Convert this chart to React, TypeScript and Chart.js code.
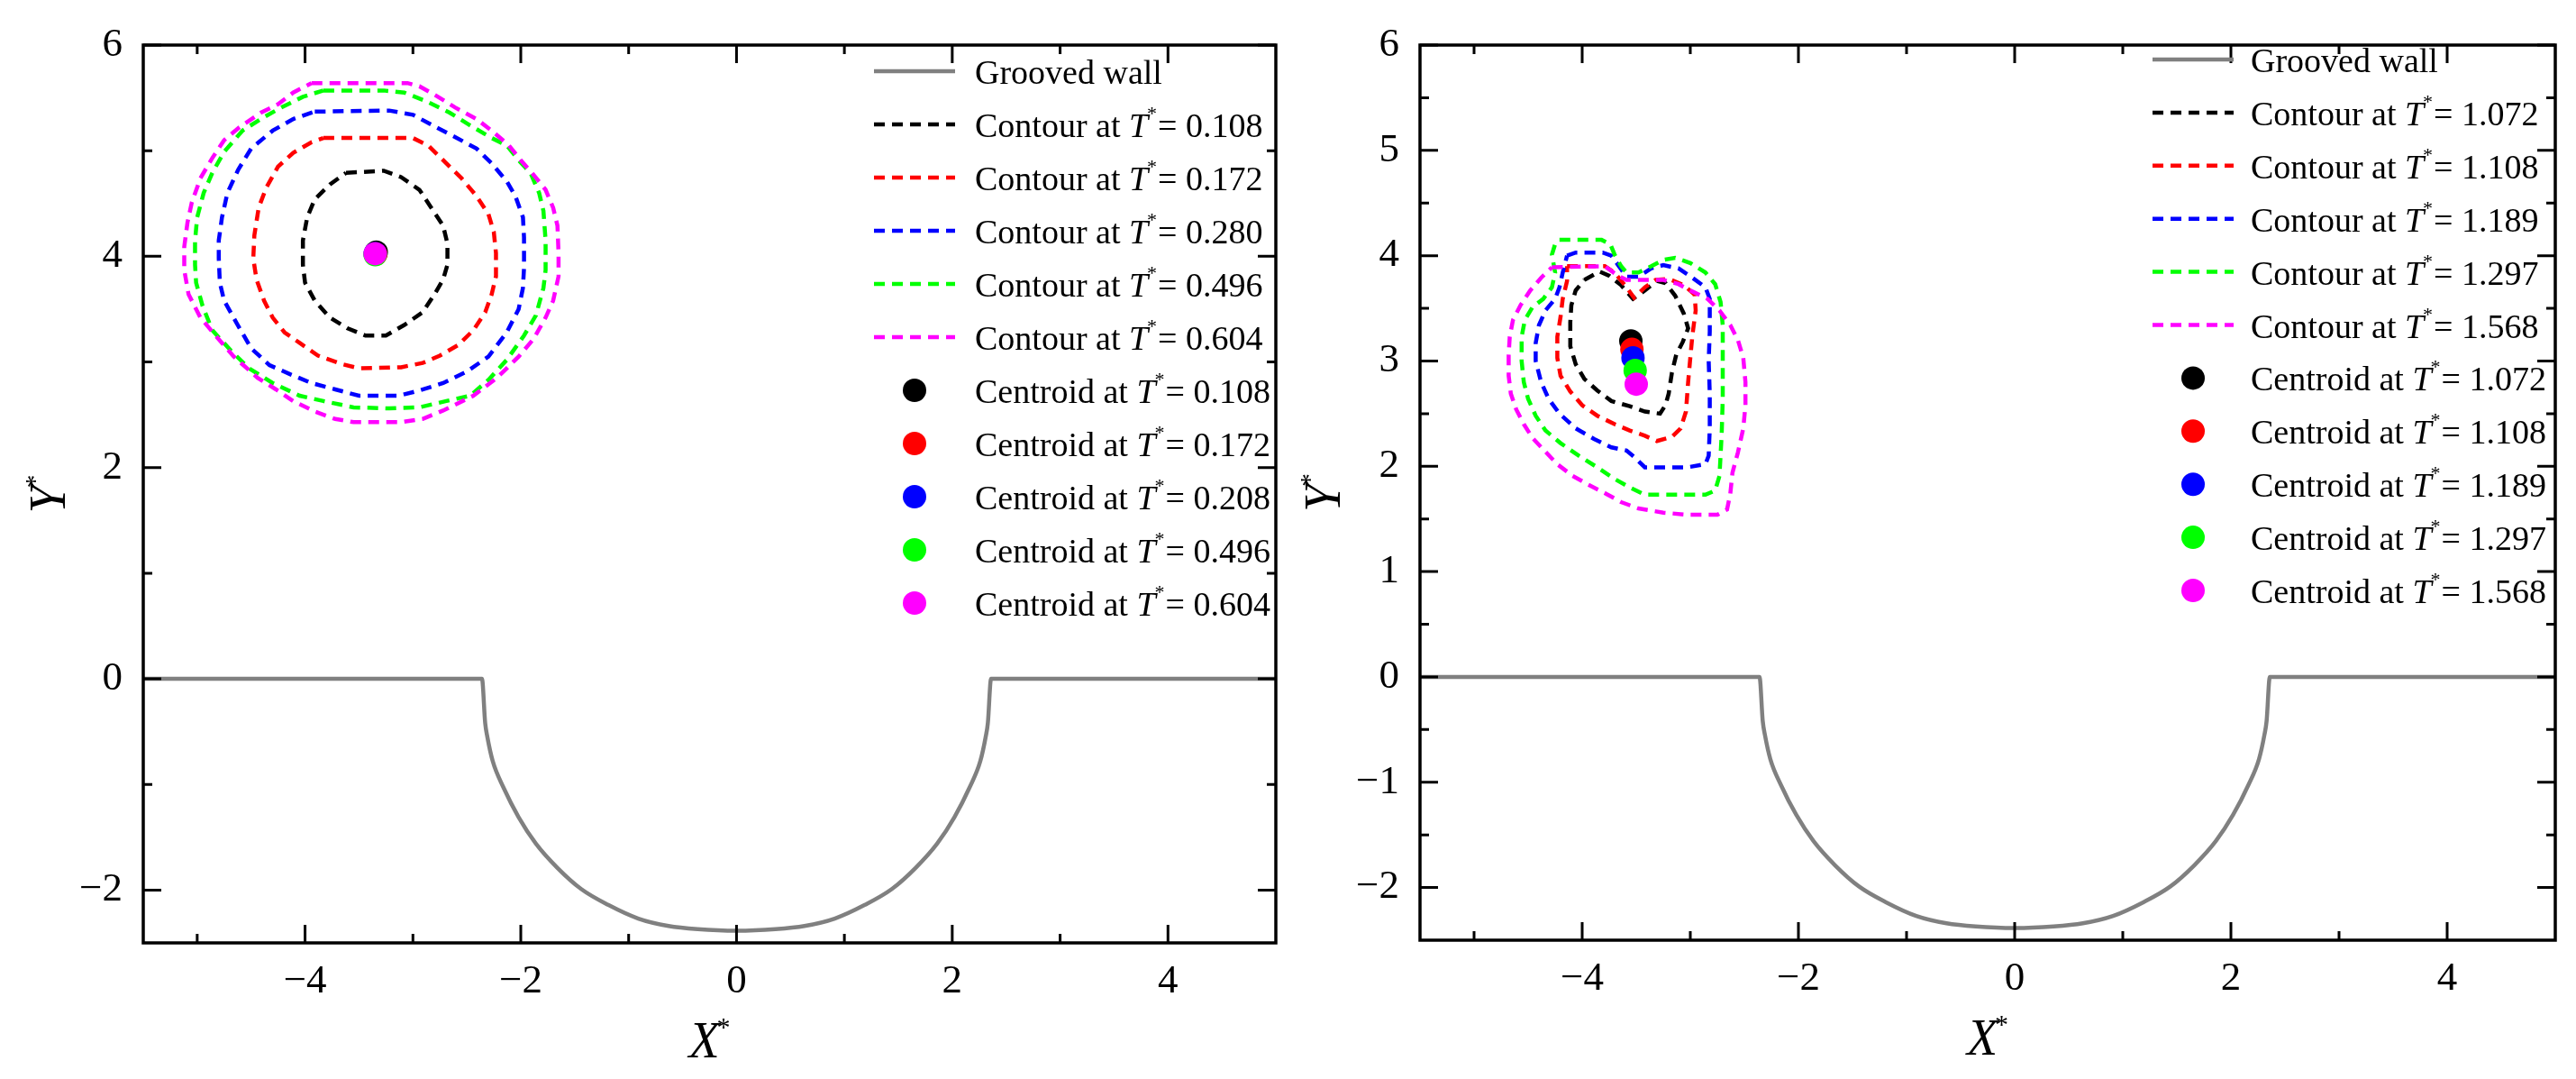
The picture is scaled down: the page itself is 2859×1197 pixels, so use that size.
import { useEffect, useRef } from "react";
import Chart from "chart.js/auto";

type Pt = [number, number];

// ---- data ----
const wall: Pt[] = [
  [-5.5, 0], [-2.36, 0], [-2.33, -0.42], [-2.31, -0.55], [-2.26, -0.78], [-2.16, -1.03],
  [-2.02, -1.31], [-1.86, -1.56], [-1.66, -1.79], [-1.44, -1.99], [-1.19, -2.14],
  [-0.91, -2.27], [-0.63, -2.34], [-0.36, -2.37], [0, -2.385], [0.36, -2.37], [0.63, -2.34],
  [0.91, -2.27], [1.19, -2.14], [1.44, -1.99], [1.66, -1.79], [1.86, -1.56], [2.02, -1.31],
  [2.16, -1.03], [2.26, -0.78], [2.31, -0.55], [2.33, -0.42], [2.36, 0], [5, 0],
];

const earlyTimes = ["0.108", "0.172", "0.280", "0.496", "0.604"];
const earlyCentroidTimes = ["0.108", "0.172", "0.208", "0.496", "0.604"];
const lateTimes = ["1.072", "1.108", "1.189", "1.297", "1.568"];

const early0108: Pt[] = [
  [-3.62, 4.79], [-3.27, 4.81], [-3.11, 4.75], [-2.94, 4.63], [-2.83, 4.46], [-2.72, 4.29],
  [-2.68, 4.12], [-2.68, 3.92], [-2.72, 3.78], [-2.8, 3.64], [-2.91, 3.47], [-3.08, 3.35],
  [-3.25, 3.25], [-3.44, 3.25], [-3.61, 3.32], [-3.77, 3.42], [-3.91, 3.58], [-4.0, 3.75],
  [-4.02, 3.92], [-4.02, 4.15], [-3.98, 4.37], [-3.91, 4.54], [-3.77, 4.68], [-3.62, 4.79],
];
const early0172: Pt[] = [
  [-3.83, 5.12], [-3.0, 5.12], [-2.86, 5.05], [-2.72, 4.91], [-2.55, 4.74], [-2.41, 4.57],
  [-2.3, 4.4], [-2.25, 4.23], [-2.23, 4.03], [-2.23, 3.81], [-2.27, 3.64], [-2.33, 3.47],
  [-2.44, 3.3], [-2.58, 3.16], [-2.75, 3.06], [-2.91, 2.99], [-3.11, 2.95], [-3.5, 2.94],
  [-3.66, 2.98], [-3.88, 3.06], [-4.05, 3.18], [-4.19, 3.28], [-4.3, 3.42], [-4.38, 3.58],
  [-4.45, 3.78], [-4.48, 3.98], [-4.47, 4.2], [-4.43, 4.46], [-4.36, 4.65], [-4.25, 4.85],
  [-4.11, 4.98], [-3.94, 5.08], [-3.83, 5.12],
];
const early0280: Pt[] = [
  [-3.91, 5.37], [-3.22, 5.38], [-3.0, 5.34], [-2.8, 5.23], [-2.61, 5.13], [-2.41, 5.02],
  [-2.27, 4.88], [-2.13, 4.71], [-2.05, 4.57], [-1.98, 4.37], [-1.97, 4.18], [-1.97, 3.89],
  [-1.98, 3.7], [-2.02, 3.5], [-2.13, 3.28], [-2.3, 3.05], [-2.5, 2.91], [-2.72, 2.8],
  [-2.94, 2.73], [-3.13, 2.68], [-3.5, 2.68], [-3.72, 2.74], [-3.94, 2.8], [-4.13, 2.88],
  [-4.33, 2.97], [-4.5, 3.13], [-4.63, 3.36], [-4.75, 3.58], [-4.79, 3.75], [-4.8, 3.98],
  [-4.8, 4.15], [-4.77, 4.37], [-4.72, 4.6], [-4.62, 4.82], [-4.5, 5.02], [-4.3, 5.19],
  [-4.11, 5.3], [-3.91, 5.37],
];
const early0496: Pt[] = [
  [-3.83, 5.57], [-3.27, 5.57], [-3.08, 5.55], [-2.88, 5.47], [-2.66, 5.36], [-2.47, 5.24],
  [-2.27, 5.12], [-2.13, 5.05], [-2.02, 4.91], [-1.91, 4.79], [-1.83, 4.6], [-1.79, 4.43],
  [-1.77, 4.15], [-1.77, 3.87], [-1.79, 3.7], [-1.86, 3.44], [-1.97, 3.25], [-2.13, 3.02],
  [-2.3, 2.83], [-2.47, 2.68], [-2.69, 2.63], [-2.94, 2.57], [-3.22, 2.56], [-3.55, 2.57],
  [-3.83, 2.63], [-4.05, 2.68], [-4.3, 2.8], [-4.52, 2.94], [-4.69, 3.11], [-4.86, 3.3],
  [-4.95, 3.53], [-5.01, 3.75], [-5.02, 3.92], [-5.02, 4.15], [-5.0, 4.37], [-4.94, 4.6],
  [-4.86, 4.79], [-4.75, 4.99], [-4.58, 5.19], [-4.41, 5.3], [-4.22, 5.41], [-4.02, 5.51],
  [-3.83, 5.57],
];
const early0604: Pt[] = [
  [-3.94, 5.64], [-3.05, 5.64], [-2.94, 5.61], [-2.8, 5.53], [-2.61, 5.41], [-2.41, 5.3],
  [-2.27, 5.19], [-2.11, 5.05], [-2.0, 4.91], [-1.88, 4.77], [-1.77, 4.63], [-1.7, 4.46],
  [-1.66, 4.29], [-1.65, 4.03], [-1.65, 3.81], [-1.7, 3.58], [-1.77, 3.42], [-1.88, 3.22],
  [-2.02, 3.05], [-2.22, 2.85], [-2.44, 2.68], [-2.72, 2.54], [-2.91, 2.46], [-3.11, 2.43],
  [-3.55, 2.43], [-3.72, 2.46], [-3.91, 2.53], [-4.11, 2.63], [-4.27, 2.74], [-4.44, 2.85],
  [-4.66, 3.05], [-4.83, 3.25], [-4.97, 3.42], [-5.08, 3.64], [-5.12, 3.87], [-5.12, 4.09],
  [-5.09, 4.32], [-5.05, 4.51], [-4.97, 4.74], [-4.86, 4.93], [-4.75, 5.1], [-4.61, 5.22],
  [-4.41, 5.36], [-4.25, 5.44], [-4.11, 5.55], [-3.94, 5.64],
];
const earlyCentroids: Pt[] = [
  [-3.34, 4.04], [-3.345, 4.02], [-3.35, 4.025], [-3.35, 4.015], [-3.35, 4.025],
];

const late1072: Pt[] = [
  [-3.98, 3.77], [-3.84, 3.85], [-3.75, 3.81], [-3.64, 3.72], [-3.53, 3.59], [-3.42, 3.67],
  [-3.31, 3.76], [-3.23, 3.74], [-3.14, 3.62], [-3.06, 3.45], [-3.02, 3.31], [-3.07, 3.18],
  [-3.13, 3.06], [-3.17, 2.89], [-3.2, 2.69], [-3.23, 2.58], [-3.28, 2.5], [-3.42, 2.52],
  [-3.56, 2.57], [-3.73, 2.62], [-3.86, 2.72], [-3.98, 2.83], [-4.06, 2.97], [-4.11, 3.14],
  [-4.11, 3.37], [-4.1, 3.53], [-4.06, 3.67], [-3.98, 3.77],
];
const late1108: Pt[] = [
  [-4.14, 3.9], [-3.79, 3.9], [-3.7, 3.84], [-3.59, 3.7], [-3.52, 3.6], [-3.42, 3.7],
  [-3.32, 3.77], [-3.2, 3.78], [-3.06, 3.72], [-2.96, 3.63], [-2.95, 3.48], [-2.98, 3.25],
  [-3.0, 3.03], [-3.02, 2.8], [-3.04, 2.52], [-3.09, 2.36], [-3.17, 2.28], [-3.31, 2.24],
  [-3.42, 2.29], [-3.56, 2.34], [-3.7, 2.4], [-3.86, 2.48], [-4.0, 2.58], [-4.11, 2.71],
  [-4.2, 2.86], [-4.23, 3.03], [-4.23, 3.23], [-4.2, 3.42], [-4.18, 3.59], [-4.14, 3.76],
  [-4.14, 3.9],
];
const late1189: Pt[] = [
  [-4.14, 4.0], [-4.06, 4.03], [-3.81, 4.03], [-3.73, 4.0], [-3.66, 3.9], [-3.59, 3.8],
  [-3.48, 3.8], [-3.36, 3.88], [-3.25, 3.91], [-3.11, 3.88], [-2.98, 3.79], [-2.86, 3.7],
  [-2.82, 3.59], [-2.82, 3.28], [-2.83, 3.0], [-2.82, 2.69], [-2.82, 2.36], [-2.83, 2.1],
  [-2.86, 2.02], [-3.03, 1.99], [-3.42, 1.99], [-3.52, 2.09], [-3.59, 2.15], [-3.73, 2.18],
  [-3.89, 2.26], [-4.06, 2.36], [-4.21, 2.5], [-4.31, 2.64], [-4.38, 2.8], [-4.43, 3.0],
  [-4.43, 3.17], [-4.4, 3.34], [-4.34, 3.48], [-4.25, 3.59], [-4.21, 3.7], [-4.18, 3.84],
  [-4.14, 4.0],
];
const late1297: Pt[] = [
  [-4.21, 4.15], [-3.82, 4.15], [-3.74, 4.11], [-3.7, 4.01], [-3.64, 3.9], [-3.59, 3.84],
  [-3.48, 3.84], [-3.36, 3.9], [-3.25, 3.96], [-3.14, 3.98], [-3.0, 3.93], [-2.86, 3.84],
  [-2.77, 3.73], [-2.72, 3.56], [-2.7, 3.34], [-2.7, 3.0], [-2.7, 2.64], [-2.71, 2.3],
  [-2.73, 1.91], [-2.77, 1.77], [-2.86, 1.73], [-3.42, 1.73], [-3.56, 1.8], [-3.7, 1.88],
  [-3.86, 1.99], [-4.03, 2.1], [-4.2, 2.22], [-4.34, 2.34], [-4.43, 2.48], [-4.5, 2.64],
  [-4.54, 2.8], [-4.56, 3.0], [-4.56, 3.23], [-4.53, 3.39], [-4.46, 3.51], [-4.36, 3.59],
  [-4.28, 3.7], [-4.25, 3.84], [-4.28, 4.01], [-4.25, 4.11], [-4.21, 4.15],
];
const late1568: Pt[] = [
  [-4.28, 3.89], [-3.79, 3.9], [-3.67, 3.81], [-3.59, 3.77], [-3.25, 3.77], [-3.11, 3.73],
  [-2.98, 3.66], [-2.84, 3.59], [-2.73, 3.48], [-2.63, 3.34], [-2.56, 3.2], [-2.51, 3.03],
  [-2.49, 2.8], [-2.49, 2.58], [-2.51, 2.36], [-2.56, 2.13], [-2.61, 1.94], [-2.63, 1.74],
  [-2.66, 1.59], [-2.75, 1.54], [-3.03, 1.54], [-3.25, 1.56], [-3.48, 1.6], [-3.64, 1.66],
  [-3.78, 1.74], [-3.95, 1.83], [-4.09, 1.91], [-4.23, 2.02], [-4.35, 2.15], [-4.46, 2.27],
  [-4.54, 2.4], [-4.61, 2.54], [-4.66, 2.69], [-4.68, 2.86], [-4.68, 3.06], [-4.67, 3.23],
  [-4.64, 3.39], [-4.57, 3.53], [-4.48, 3.67], [-4.38, 3.79], [-4.28, 3.89],
];
const lateCentroids: Pt[] = [
  [-3.55, 3.19], [-3.54, 3.11], [-3.53, 3.03], [-3.51, 2.91], [-3.5, 2.78],
];

const seriesColors = ["#000000", "#ff0000", "#0000ff", "#00ff00", "#ff00ff"];
const wallColor = "#808080";

const xTicks = [-4, -2, 0, 2, 4];
const xMinor = [-5, -3, -1, 1, 3];
const earlyYTicks = [6, 4, 2, 0, -2];
const earlyYMinor = [5, 3, 1, -1];
const lateYTicks = [6, 5, 4, 3, 2, 1, 0, -1, -2];
const lateYMinor = [5.5, 4.5, 3.5, 2.5, 1.5, 0.5, -0.5, -1.5];

// ---- styling ----
const SERIF = '"Liberation Serif", "Times New Roman", serif';
const TICK_SIZE = 45;
const LEGEND_SIZE = 38;
const DASH = [12, 8];

type Panel = {
  width: number;
  contours: Pt[][];
  contourTimes: string[];
  centroids: Pt[];
  centroidTimes: string[];
  yTicks: number[];
  yMinor: number[];
  yAxisWidth: number;
  xAxisHeight: number;
  padTop: number;
  padRight: number;
  yTitleX: number;
  legend: { x0: number; x1: number; textX: number; row0: number; step: number };
};

const panels: Panel[] = [
  {
    width: 1440,
    contours: [early0108, early0172, early0280, early0496, early0604],
    contourTimes: earlyTimes,
    centroids: earlyCentroids,
    centroidTimes: earlyCentroidTimes,
    yTicks: earlyYTicks,
    yMinor: earlyYMinor,
    yAxisWidth: 159,
    xAxisHeight: 151,
    padTop: 36,
    padRight: 24,
    yTitleX: 72,
    legend: { x0: 970, x1: 1060, textX: 1082, row0: 79, step: 59 },
  },
  {
    width: 1419,
    contours: [late1072, late1108, late1189, late1297, late1568],
    contourTimes: lateTimes,
    centroids: lateCentroids,
    centroidTimes: lateTimes,
    yTicks: lateYTicks,
    yMinor: lateYMinor,
    yAxisWidth: 136,
    xAxisHeight: 154,
    padTop: 32,
    padRight: 23,
    yTitleX: 47,
    legend: { x0: 949, x1: 1039, textX: 1058, row0: 66, step: 58.9 },
  },
];

const toXY = (pts: Pt[]) => pts.map(([x, y]) => ({ x, y }));
const minus = (v: number | string) => String(v).replace("-", "\u2212");

function legendText(ctx: CanvasRenderingContext2D, x: number, base: number, head: string, time?: string) {
  ctx.fillStyle = "#000";
  ctx.textAlign = "left";
  ctx.textBaseline = "alphabetic";
  ctx.font = `${LEGEND_SIZE}px ${SERIF}`;
  if (!time) {
    ctx.fillText(head, x, base);
    return;
  }
  let cx = x;
  const lead = `${head} at `;
  ctx.fillText(lead, cx, base);
  cx += ctx.measureText(lead).width;
  ctx.font = `italic ${LEGEND_SIZE}px ${SERIF}`;
  ctx.fillText("T", cx, base);
  cx += ctx.measureText("T").width;
  ctx.font = `22px ${SERIF}`;
  ctx.fillText("*", cx - 1, base - 19);
  cx += ctx.measureText("*").width;
  ctx.font = `${LEGEND_SIZE}px ${SERIF}`;
  ctx.fillText(`= ${time}`, cx, base);
}

function starTitle(ctx: CanvasRenderingContext2D, letter: string) {
  ctx.fillStyle = "#000";
  ctx.textBaseline = "alphabetic";
  ctx.textAlign = "left";
  ctx.font = `italic 56px ${SERIF}`;
  const w1 = ctx.measureText(letter).width;
  ctx.font = `30px ${SERIF}`;
  const w2 = ctx.measureText("*").width;
  const start = -(w1 + w2 - 3) / 2;
  ctx.font = `italic 56px ${SERIF}`;
  ctx.fillText(letter, start, 0);
  ctx.font = `30px ${SERIF}`;
  ctx.fillText("*", start + w1 - 3, -24);
}

function makeDecor(p: Panel) {
  return {
    id: "decor",
    afterDraw(chart: Chart) {
      const ctx = chart.ctx;
      const { left, right, top, bottom } = chart.chartArea;
      const xs = chart.scales.x;
      const ys = chart.scales.y;
      ctx.save();
      ctx.strokeStyle = "#000";
      ctx.lineWidth = 3.5;
      ctx.strokeRect(left, top, right - left, bottom - top);

      ctx.lineWidth = 3;
      const vtick = (v: number, len: number) => {
        const px = xs.getPixelForValue(v);
        ctx.beginPath();
        ctx.moveTo(px, bottom);
        ctx.lineTo(px, bottom - len);
        ctx.moveTo(px, top);
        ctx.lineTo(px, top + len);
        ctx.stroke();
      };
      const htick = (v: number, len: number) => {
        const py = ys.getPixelForValue(v);
        ctx.beginPath();
        ctx.moveTo(left, py);
        ctx.lineTo(left + len, py);
        ctx.moveTo(right, py);
        ctx.lineTo(right - len, py);
        ctx.stroke();
      };
      xTicks.forEach((v) => vtick(v, 20));
      xMinor.forEach((v) => vtick(v, 10));
      p.yTicks.forEach((v) => htick(v, 20));
      p.yMinor.forEach((v) => htick(v, 10));

      // axis titles
      ctx.save();
      ctx.translate((left + right) / 2, bottom + 127);
      starTitle(ctx, "X");
      ctx.restore();
      ctx.save();
      ctx.translate(p.yTitleX, (top + bottom) / 2);
      ctx.rotate(-Math.PI / 2);
      starTitle(ctx, "Y");
      ctx.restore();

      // legend
      const { x0, x1, textX, row0, step } = p.legend;
      let row = 0;
      const yAt = (i: number) => row0 + i * step;
      ctx.lineWidth = 4.5;
      ctx.strokeStyle = wallColor;
      ctx.setLineDash([]);
      ctx.beginPath();
      ctx.moveTo(x0, yAt(row));
      ctx.lineTo(x1, yAt(row));
      ctx.stroke();
      legendText(ctx, textX, yAt(row) + 14, "Grooved wall");
      row++;
      p.contourTimes.forEach((t, i) => {
        ctx.strokeStyle = seriesColors[i];
        ctx.lineWidth = 4.5;
        ctx.setLineDash(DASH);
        ctx.beginPath();
        ctx.moveTo(x0, yAt(row));
        ctx.lineTo(x1, yAt(row));
        ctx.stroke();
        ctx.setLineDash([]);
        legendText(ctx, textX, yAt(row) + 14, "Contour", t);
        row++;
      });
      p.centroidTimes.forEach((t, i) => {
        ctx.fillStyle = seriesColors[i];
        ctx.beginPath();
        ctx.arc((x0 + x1) / 2, yAt(row), 13, 0, Math.PI * 2);
        ctx.fill();
        legendText(ctx, textX, yAt(row) + 14, "Centroid", t);
        row++;
      });
      ctx.restore();
    },
  };
}

function ContourPanel({ p }: { p: Panel }) {
  const ref = useRef<HTMLCanvasElement>(null);

  useEffect(() => {
    if (!ref.current) return;
    const datasets: any[] = [
      {
        label: "Grooved wall",
        data: toXY(wall),
        showLine: true,
        borderColor: wallColor,
        borderWidth: 4.5,
        pointRadius: 0,
        cubicInterpolationMode: "monotone",
      },
    ];
    p.contours.forEach((c, i) =>
      datasets.push({
        label: `Contour at T*= ${p.contourTimes[i]}`,
        data: toXY(c),
        showLine: true,
        borderColor: seriesColors[i],
        borderWidth: 4.5,
        borderDash: DASH,
        pointRadius: 0,
      })
    );
    p.centroids.forEach((c, i) =>
      datasets.push({
        label: `Centroid at T*= ${p.centroidTimes[i]}`,
        data: toXY([c]),
        backgroundColor: seriesColors[i],
        borderWidth: 0,
        pointRadius: 13,
      })
    );
    datasets.forEach((d, i) => (d.order = 100 - i));

    const tickFont = { family: SERIF, size: TICK_SIZE };
    const chart = new Chart(ref.current, {
      type: "scatter",
      data: { datasets },
      options: {
        responsive: true,
        maintainAspectRatio: false,
        animation: false,
        events: [],
        layout: { padding: { top: p.padTop, right: p.padRight, left: 0, bottom: 0 } },
        plugins: { legend: { display: false }, tooltip: { enabled: false } },
        elements: { line: { tension: 0 } },
        scales: {
          x: {
            type: "linear",
            min: -5.5,
            max: 5,
            grid: { display: false, drawTicks: false },
            border: { display: false },
            ticks: { font: tickFont, color: "#000", padding: 16, maxRotation: 0, callback: (v: any) => minus(v) },
            afterBuildTicks: (s: any) => {
              s.ticks = xTicks.map((value) => ({ value }));
            },
            afterFit: (s: any) => {
              s.height = p.xAxisHeight;
            },
          },
          y: {
            type: "linear",
            min: -2.5,
            max: 6,
            grid: { display: false, drawTicks: false },
            border: { display: false },
            ticks: { font: tickFont, color: "#000", padding: 23, callback: (v: any) => minus(v) },
            afterBuildTicks: (s: any) => {
              s.ticks = p.yTicks.map((value) => ({ value }));
            },
            afterFit: (s: any) => {
              s.width = p.yAxisWidth;
            },
          },
        },
      },
      plugins: [makeDecor(p)],
    });
    return () => {
      chart.destroy();
    };
  }, [p]);

  return (
    <div style={{ position: "relative", width: p.width, height: 1197 }}>
      <canvas ref={ref} />
    </div>
  );
}

export default function App() {
  return (
    <div
      style={{
        position: "absolute",
        left: 0,
        top: 0,
        width: 2859,
        height: 1197,
        display: "flex",
        background: "#ffffff",
      }}
    >
      {panels.map((p, i) => (
        <ContourPanel key={i} p={p} />
      ))}
    </div>
  );
}
